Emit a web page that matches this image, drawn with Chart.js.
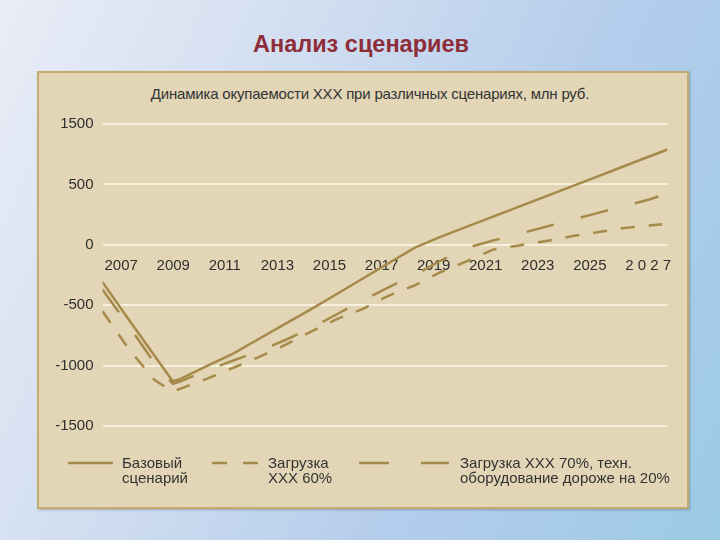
<!DOCTYPE html>
<html lang="ru">
<head>
<meta charset="utf-8">
<script src="https://cdn.jsdelivr.net/npm/chart.js@4.4.1/dist/chart.umd.min.js"></script>
<style>
    html, body { margin: 0; padding: 0; }
    body {
        width: 720px; height: 540px; overflow: hidden; position: relative;
        background: linear-gradient(115deg, #e9edf6 0%, #d0ddf0 35%, #b4cdec 65%, #9ccae4 100%);
        font-family: "Liberation Sans", Arial, sans-serif;
    }
    h1 {
        position: absolute; left: 0; top: 29px; width: 722px; margin: 0;
        text-align: center; font-size: 23.5px; line-height: 30px; color: #8d2d38; font-weight: bold;
    }
    .panel {
        position: absolute; left: 37px; top: 71px; width: 648px; height: 434px;
        background: #e2d6b7; border: 2px solid #c6ab70; box-shadow: 1px 1px 2px rgba(0,0,0,0.25);
    }
    .subtitle {
        position: absolute; left: 70px; width: 600px; top: 85px;
        text-align: center; font-size: 15px; letter-spacing: -0.2px; color: #333;
    }
    #chart { position: absolute; left: 0; top: 0; }
    .legend-item { position: absolute; top: 455px; font-size: 15px; line-height: 15px; color: #333; }
    .legend-sample { position: absolute; top: 456px; }
</style>
</head>
<body>
<h1>Анализ сценариев</h1>
<div class="panel"></div>
<div class="subtitle">Динамика окупаемости XXX при различных сценариях, млн руб.</div>
<canvas id="chart" width="720" height="540"></canvas>
<div id="legend"></div>
<script>
// ось X: подписи через год
const xTickYears = [2007, 2009, 2011, 2013, 2015, 2017, 2019, 2021, 2023, 2025, 2027];
const xTickLabels = ['2007', '2009', '2011', '2013', '2015', '2017', '2019', '2021', '2023', '2025', '2 0 2 7'];

// ось Y (подписи как на исходном слайде)
const yTickValues = [1000, 500, 0, -500, -1000, -1500];
const yTickLabels = ['1500', '500', '0', '-500', '-1000', '-1500'];

// Базовый сценарий
const baseYears = [2007, 2008, 2009, 2009.7, 2010, 2011, 2012, 2013, 2014, 2015, 2016, 2017, 2018, 2019, 2020, 2021, 2022, 2023, 2024, 2025, 2026, 2027, 2028, 2028.7];
const baseValues = [-309, -616, -919, -1130, -1110, -1005, -903, -780, -657, -534, -407, -279, -151, -24, 68, 150, 233, 316, 399, 482, 565, 648, 731, 789];

// Загрузка XXX 60%
const load60Years = [2007, 2008, 2009, 2009.7, 2010, 2011, 2012, 2013, 2014, 2015, 2016, 2017, 2018, 2019, 2020, 2021, 2022, 2023, 2024, 2025, 2026, 2027, 2028, 2028.5];
const load60Values = [-550, -860, -1120, -1215, -1190, -1110, -1020, -930, -830, -720, -615, -530, -420, -335, -225, -135, -40, -5, 30, 70, 103, 138, 160, 171];

// Загрузка XXX 70%, оборудование дороже на 20%
const load70Years = [2007, 2008, 2009, 2009.7, 2010, 2011, 2012, 2013, 2014, 2015, 2016, 2017, 2018, 2019, 2020, 2021, 2022, 2023, 2024, 2025, 2026, 2027, 2028, 2028.35];
const load70Values = [-370, -670, -980, -1150, -1130, -1040, -960, -880, -790, -690, -575, -460, -350, -250, -130, -25, 35, 90, 148, 205, 262, 320, 375, 400];

const lineColor = '#a68a4a';
const textColor = '#2f2f2f';

const series = [
    { lines: ['Базовый', 'сценарий'], years: baseYears, values: baseValues, dash: [],
      sample: { left: 68, width: 45, dash: [] }, textLeft: 122 },
    { lines: ['Загрузка', 'XXX 60%'], years: load60Years, values: load60Values, dash: [14, 14],
      sample: { left: 212, width: 46, dash: [15, 16] }, textLeft: 268 },
    { lines: ['Загрузка XXX 70%, техн.', 'оборудование дороже на 20%'], years: load70Years, values: load70Values, dash: [28, 28],
      sample: { left: 359, width: 90, dash: [30, 32] }, textLeft: 460 }
];

const datasets = series.map(s => ({
    label: s.lines.join(' '),
    data: s.years.map((x, i) => ({ x: x, y: s.values[i] })),
    borderColor: lineColor,
    borderWidth: 2.5,
    borderDash: s.dash,
    pointRadius: 0,
    fill: false,
    tension: 0
}));

new Chart(document.getElementById('chart').getContext('2d'), {
    type: 'line',
    data: { datasets: datasets },
    options: {
        responsive: false,
        animation: false,
        layout: { padding: { left: 0, top: 124, right: 52.5, bottom: 114 } },
        plugins: { legend: { display: false }, tooltip: { enabled: false } },
        scales: {
            x: {
                type: 'linear',
                position: { y: 0 },
                min: 2007,
                max: 2028.7,
                afterBuildTicks: scale => { scale.ticks = xTickYears.map(v => ({ value: v })); },
                ticks: {
                    align: 'start',
                    labelOffset: 2,
                    padding: 4,
                    autoSkip: false,
                    maxRotation: 0,
                    color: textColor,
                    font: { family: 'Liberation Sans', size: 15 },
                    callback: value => xTickLabels[xTickYears.indexOf(value)]
                },
                grid: { display: false },
                border: { display: false }
            },
            y: {
                min: -1500,
                max: 1000,
                afterBuildTicks: scale => { scale.ticks = yTickValues.map(v => ({ value: v })); },
                afterFit: scale => { scale.width = 102.5; },
                ticks: {
                    padding: 9,
                    color: textColor,
                    font: { family: 'Liberation Sans', size: 15 },
                    callback: value => yTickLabels[yTickValues.indexOf(value)]
                },
                grid: { color: '#f7f0dd', lineWidth: 2, drawTicks: false },
                border: { display: false }
            }
        }
    }
});

// легенда внизу панели
const legend = document.getElementById('legend');
series.forEach(s => {
    const svg = document.createElementNS('http://www.w3.org/2000/svg', 'svg');
    svg.setAttribute('class', 'legend-sample');
    svg.setAttribute('width', s.sample.width);
    svg.setAttribute('height', 14);
    svg.style.left = s.sample.left + 'px';
    const line = document.createElementNS('http://www.w3.org/2000/svg', 'line');
    line.setAttribute('x1', 0);
    line.setAttribute('x2', s.sample.width);
    line.setAttribute('y1', 7);
    line.setAttribute('y2', 7);
    line.setAttribute('stroke', lineColor);
    line.setAttribute('stroke-width', 2.5);
    if (s.sample.dash.length) line.setAttribute('stroke-dasharray', s.sample.dash.join(' '));
    svg.appendChild(line);
    legend.appendChild(svg);

    const text = document.createElement('div');
    text.className = 'legend-item';
    text.style.left = s.textLeft + 'px';
    text.innerHTML = s.lines.join('<br>');
    legend.appendChild(text);
});
</script>
</body>
</html>
